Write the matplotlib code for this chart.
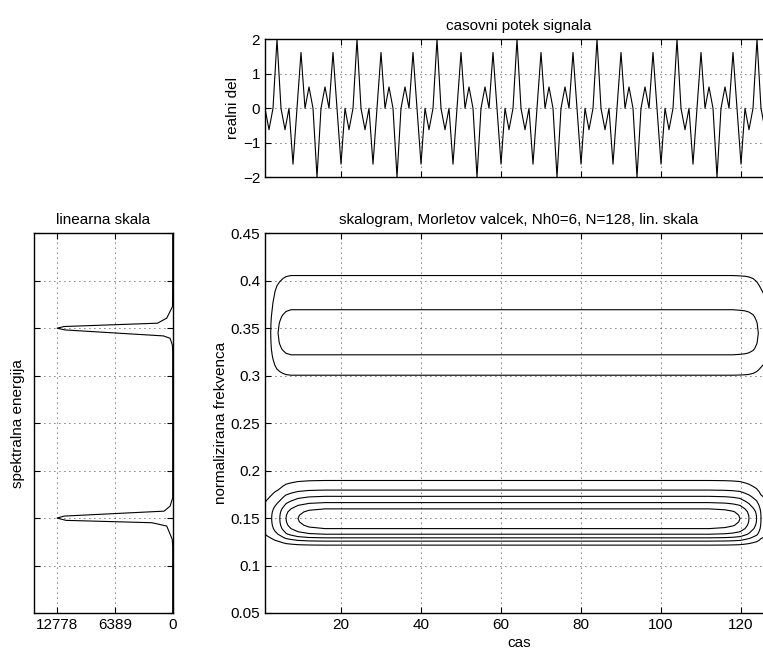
import numpy as np
import matplotlib
matplotlib.use('Agg')
import matplotlib.pyplot as plt

plt.rcParams['font.family'] = ['Liberation Sans', 'DejaVu Sans']
plt.rcParams['font.size'] = 11

# --- signal (real part), read sample by sample, t = 1..128
sig_t = np.arange(1, 129)
sig_re = [0, -0.62, 0, 2, 0, -0.62, 0, -1.62, 0, 1.62, 0, 0.62, 0, -2, 0, 0.62, 0, 1.62, 0, -1.62,
          0, -0.62, 0, 2, 0, -0.62, 0, -1.62, 0, 1.62, 0, 0.62, 0, -2, 0, 0.62, 0, 1.62, 0, -1.62,
          0, -0.62, 0, 2, 0, -0.62, 0, -1.62, 0, 1.62, 0, 0.62, 0, -2, 0, 0.62, 0, 1.62, 0, -1.62,
          0, -0.62, 0, 2, 0, -0.62, 0, -1.62, 0, 1.62, 0, 0.62, 0, -2, 0, 0.62, 0, 1.62, 0, -1.62,
          0, -0.62, 0, 2, 0, -0.62, 0, -1.62, 0, 1.62, 0, 0.62, 0, -2, 0, 0.62, 0, 1.62, 0, -1.62,
          0, -0.62, 0, 2, 0, -0.62, 0, -1.62, 0, 1.62, 0, 0.62, 0, -2, 0, 0.62, 0, 1.62, 0, -1.62,
          0, -0.62, 0, 2, 0, -0.62, 0, -1.62]

# --- spectrum (left panel)
spec_f = [0.05, 0.12, 0.1276, 0.1416, 0.1451, 0.1476, 0.150, 0.1521, 0.1573, 0.1626, 0.1713,
          0.20, 0.30, 0.325, 0.3324, 0.3394, 0.3419, 0.3482, 0.350, 0.3518, 0.3553, 0.3606,
          0.3729, 0.40, 0.45]
spec_e = [0, 0, 50, 660, 2300, 11800, 12778, 12000, 950, 290, 0,
          0, 0, 0, 40, 290, 1020, 11900, 12778, 12000, 1680, 660,
          20, 0, 0]
spec_ticks = [12778, 6389, 0]
spec_labels = ['12778', '6389', '0']

# --- scalogram, read as frequency profiles and time envelopes of the two components
sc_f = [0.05, 0.10, 0.115, 0.1215, 0.1257, 0.1292, 0.133, 0.1389, 0.1425, 0.146, 0.1495,
        0.153, 0.1565, 0.1597, 0.1663, 0.1729, 0.1795, 0.1896, 0.21, 0.24, 0.27, 0.285,
        0.3005, 0.322, 0.3285, 0.335, 0.345, 0.355, 0.362, 0.3695, 0.4055, 0.43, 0.45]
prof_lo = [0, 0.02, 0.1, 0.18, 0.36, 0.54, 0.72, 0.9, 0.96, 0.99, 1.0,
           0.99, 0.96, 0.9, 0.72, 0.54, 0.36, 0.18, 0.05, 0.01, 0, 0,
           0, 0, 0, 0, 0, 0, 0, 0, 0, 0, 0]
prof_hi = [0, 0, 0, 0, 0, 0, 0, 0, 0, 0, 0,
           0, 0, 0, 0, 0, 0, 0, 0, 0.03, 0.12, 0.25,
           0.4, 0.8, 0.9, 0.96, 1.0, 0.96, 0.9, 0.8, 0.4, 0.2, 0.1]
peak_hi = 0.45
sc_t = [1, 1.5, 2, 2.5, 3, 3.5, 4, 4.7, 5.5, 6.25, 7.5, 9.25, 12, 16,
        64, 112, 116, 118, 119.75, 121, 122, 123, 123.9, 124.5, 125, 126, 128]
env_lo = [0.25, 0.28, 0.31, 0.345, 0.39, 0.44, 0.48, 0.54, 0.63, 0.72, 0.8, 0.9, 0.97, 1.0,
          1.0, 1.0, 0.98, 0.95, 0.9, 0.8, 0.72, 0.62, 0.54, 0.45, 0.36, 0.3, 0.22]
env_hi = [0.05, 0.15, 0.28, 0.42, 0.56, 0.68, 0.77, 0.85, 0.92, 0.97, 1.0, 1.0, 1.0, 1.0,
          1.0, 1.0, 1.0, 1.0, 0.99, 0.98, 0.96, 0.92, 0.85, 0.78, 0.72, 0.62, 0.5]
levels = [0.18, 0.36, 0.54, 0.72, 0.9]

f_ticks = [0.05, 0.1, 0.15, 0.2, 0.25, 0.3, 0.35, 0.4, 0.45]
f_labels = ['0.05', '0.1', '0.15', '0.2', '0.25', '0.3', '0.35', '0.4', '0.45']
t_ticks = [20, 40, 60, 80, 100, 120]

Z = np.outer(prof_lo, env_lo) + peak_hi * np.outer(prof_hi, env_hi)

W, H = 763, 652
fig = plt.figure(figsize=(W / 100, H / 100), dpi=100)

def px(l, t, r, b):
    return [l / W, 1 - b / H, (r - l) / W, (b - t) / H]

gridkw = dict(color='k', linestyle=(0, (1, 5)), linewidth=0.6)

def style(ax):
    ax.tick_params(direction='in', length=4, width=0.8, top=True, right=True, labelsize=11)
    for s in ax.spines.values():
        s.set_linewidth(1.0)
    ax.grid(True, **gridkw)

# top: signal
ax1 = fig.add_axes(px(265, 39.3, 773, 177.3))
ax1.plot(sig_t, sig_re, color='k', linewidth=0.8)
ax1.set_xlim(1, 128)
ax1.set_ylim(-2, 2)
ax1.set_xticks(t_ticks)
ax1.set_xticklabels([])
ax1.set_yticks([-2, -1, 0, 1, 2])
ax1.set_ylabel('realni del', labelpad=2)
ax1.set_title('casovni potek signala', fontsize=11, pad=7)
style(ax1)

# main: scalogram contours
ax2 = fig.add_axes(px(265, 233.3, 773, 613))
ax2.contour(sc_t, sc_f, Z, levels=levels, colors='k', linewidths=0.8)
ax2.set_xlim(1, 128)
ax2.set_ylim(0.05, 0.45)
ax2.set_xticks(t_ticks)
ax2.set_yticks(f_ticks)
ax2.set_yticklabels(f_labels)
ax2.set_xlabel('cas', labelpad=3)
ax2.set_ylabel('normalizirana frekvenca', labelpad=2)
ax2.set_title('skalogram, Morletov valcek, Nh0=6, N=128, lin. skala', fontsize=11, pad=7)
style(ax2)

# left: spectrum
ax3 = fig.add_axes(px(34, 233.3, 172.7, 613))
ax3.plot(spec_e, spec_f, color='k', linewidth=0.8)
ax3.set_xlim(12778 * 1.2, 0)
ax3.set_ylim(0.05, 0.45)
ax3.set_xticks(spec_ticks)
ax3.set_xticklabels(spec_labels)
ax3.set_yticks(f_ticks)
ax3.set_yticklabels([])
ax3.set_ylabel('spektralna energija', labelpad=3)
ax3.set_title('linearna skala', fontsize=11, pad=7)
style(ax3)

fig.savefig('out.png', dpi=100)
